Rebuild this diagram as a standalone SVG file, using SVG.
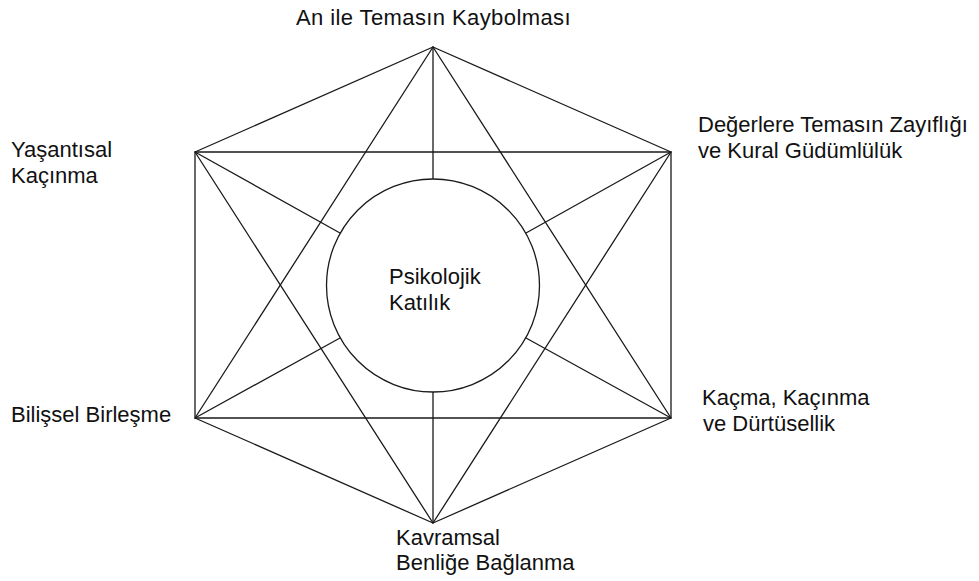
<svg xmlns="http://www.w3.org/2000/svg" width="979" height="581" viewBox="0 0 979 581">
<style>
.ln{stroke:#1a1a1a;stroke-width:1.3;fill:none;stroke-linecap:round;stroke-linejoin:round}
.t{font-family:"Liberation Sans",Arial,sans-serif;font-size:22px;fill:#111}
</style>
<rect width="979" height="581" fill="#fff"/>
<g id="connectors">
<polygon class="ln" points="433,47 671,152 671,418 433,523 195,418 195,152"/>
<polygon class="ln" points="433,47 671,418 195,418"/>
<polygon class="ln" points="433,523 195,152 671,152"/>
<line class="ln" x1="433" y1="47" x2="433" y2="179"/>
<line class="ln" x1="433" y1="523" x2="433" y2="392"/>
<line class="ln" x1="195" y1="152" x2="340" y2="233"/>
<line class="ln" x1="671" y1="152" x2="526" y2="233"/>
<line class="ln" x1="195" y1="418" x2="340" y2="338"/>
<line class="ln" x1="671" y1="418" x2="526" y2="338"/>
</g>
<g id="center">
<circle cx="433" cy="285.5" r="106.5" fill="#fff" stroke="#1a1a1a" stroke-width="1.3"/>
<text class="t" x="389" y="284">Psikolojik</text>
<text class="t" x="389" y="310">Katılık</text>
</g>
<g id="n-top"><text class="t" x="296" y="25" letter-spacing="0.4">An ile Temasın Kaybolması</text></g>
<g id="n-upright"><text class="t" x="698" y="132">Değerlere Temasın Zayıflığı</text><text class="t" x="698" y="158">ve Kural Güdümlülük</text></g>
<g id="n-lowright"><text class="t" x="702" y="405">Kaçma, Kaçınma</text><text class="t" x="703" y="431">ve Dürtüsellik</text></g>
<g id="n-bottom"><text class="t" x="396" y="545">Kavramsal</text><text class="t" x="396" y="570">Benliğe Bağlanma</text></g>
<g id="n-lowleft"><text class="t" x="11" y="422">Bilişsel Birleşme</text></g>
<g id="n-upleft"><text class="t" x="11" y="157">Yaşantısal</text><text class="t" x="11" y="183">Kaçınma</text></g>
</svg>
